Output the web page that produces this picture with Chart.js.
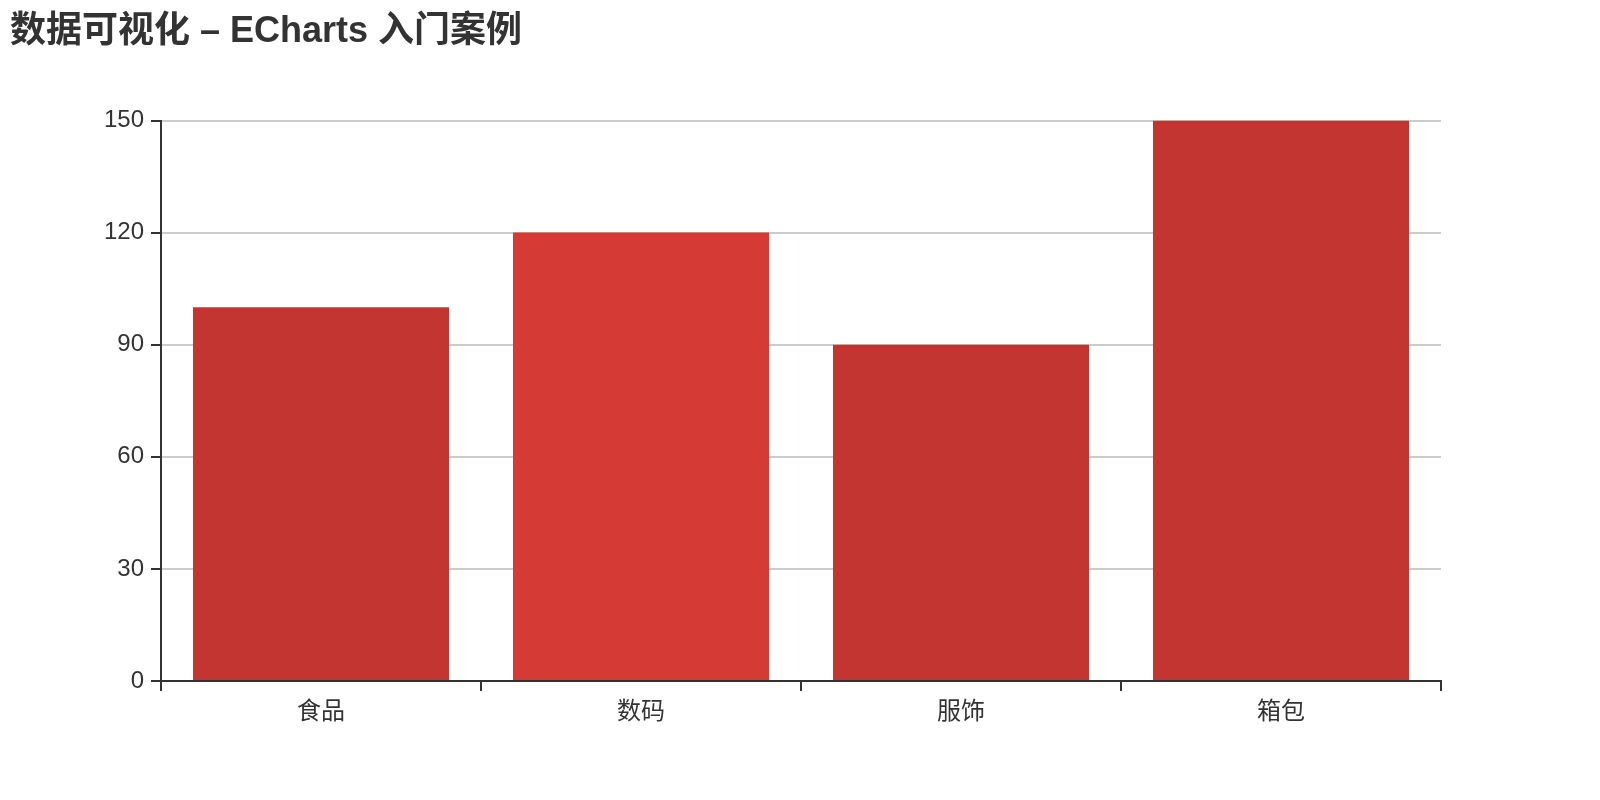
<!DOCTYPE html>
<html>
<head>
<meta charset="utf-8">
<script src="https://cdn.jsdelivr.net/npm/chart.js@4"></script>
<style>
  html, body { margin: 0; padding: 0; background: #fff; }
  #wrap { width: 1600px; height: 800px; }
</style>
</head>
<body>
<div id="wrap"><canvas id="c" width="1600" height="800"></canvas></div>
<script>
const titleText = '数据可视化 – ECharts 入门案例';
const categories = ['食品', '数码', '服饰', '箱包'];
const salesValues = [100, 120, 90, 150];
const barColors = ['#c23531', '#d63a35', '#c23531', '#c23531'];
const yTicks = [0, 30, 60, 90, 120, 150];

const FONT = '"Liberation Sans", "Noto Sans CJK SC", sans-serif';

new Chart(document.getElementById('c'), {
  type: 'bar',
  data: {
    labels: categories,
    datasets: [{
      label: '销量',
      data: salesValues,
      backgroundColor: barColors,
      borderWidth: 0,
      barPercentage: 0.8,
      categoryPercentage: 1.0
    }]
  },
  options: {
    responsive: false,
    animation: false,
    devicePixelRatio: 1,
    layout: { padding: { left: 10, right: 159, top: 0, bottom: 0 } },
    plugins: {
      legend: { display: false },
      tooltip: { enabled: false },
      title: {
        display: true,
        text: titleText,
        align: 'start',
        color: '#333',
        font: { family: FONT, size: 36, weight: 'bold', lineHeight: 1.2 },
        padding: { top: 10, bottom: 67.3 }
      }
    },
    scales: {
      x: {
        type: 'category',
        offset: true,
        grid: {
          offset: true,
          drawOnChartArea: false,
          drawTicks: true,
          tickLength: 10,
          tickColor: '#333',
          lineWidth: 2
        },
        border: { display: true, color: '#333', width: 2 },
        ticks: {
          color: '#333',
          font: { family: FONT, size: 24 },
          padding: 7,
          maxRotation: 0,
          autoSkip: false
        },
        afterFit: function (scale) { scale.height = 119; }
      },
      y: {
        min: 0,
        max: 150,
        afterBuildTicks: function (scale) {
          scale.ticks = yTicks.map(function (v) { return { value: v }; });
        },
        grid: {
          color: '#ccc',
          tickColor: '#333',
          lineWidth: 2,
          tickLength: 10,
          drawTicks: true
        },
        border: { display: true, color: '#333', width: 2 },
        ticks: {
          color: '#333',
          font: { family: FONT, size: 24 },
          padding: 7
        },
        afterFit: function (scale) { scale.width = 151; }
      }
    }
  }
});
</script>
</body>
</html>
